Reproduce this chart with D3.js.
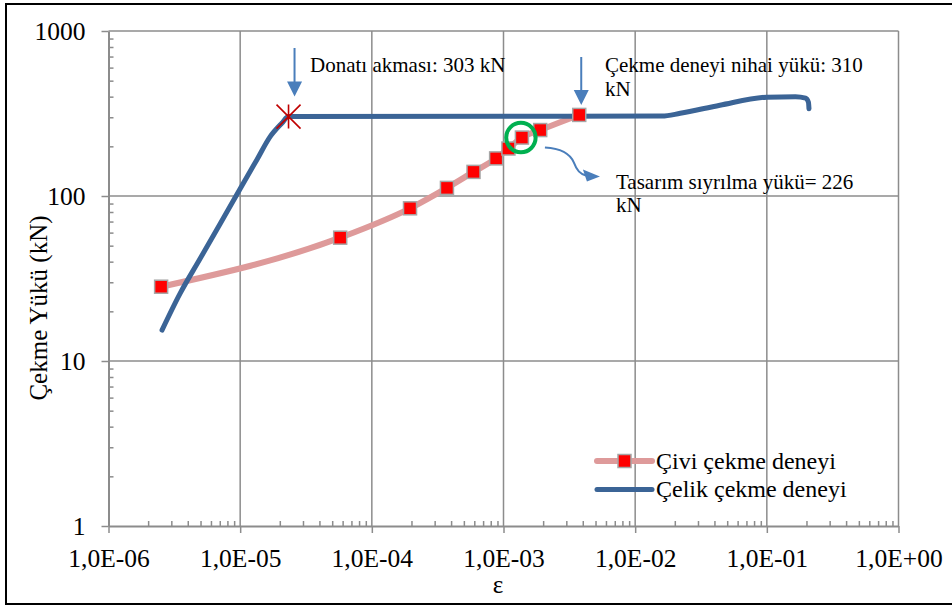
<!DOCTYPE html>
<html><head><meta charset="utf-8">
<script src="https://cdn.jsdelivr.net/npm/d3@7"></script>
<style>
body{margin:0;background:#fff}
svg text{font-family:"Liberation Serif","Times New Roman",serif;fill:#000}
</style>
</head><body>
<svg id="c" width="952" height="608"></svg>
<script>
// ---- data ----
const nailStrain = [2.51e-6, 5.75e-5, 1.95e-4, 3.72e-4, 5.92e-4, 8.79e-4, 1.09e-3, 1.38e-3, 1.90e-3, 3.76e-3];
const nailLoad   = [28.2, 55.9, 84.2, 112, 140, 169, 194, 226, 251, 310];
const steelStrain = [2.55e-6, 3.5e-6, 4.97e-6, 7.05e-6, 1.0e-5, 1.34e-5, 1.69e-5, 2.07e-5, 2.33e-5,
                     1.6e-2, 2.2e-2, 4.4e-2, 0.1, 0.165, 0.197, 0.207, 0.209];
const steelLoad   = [15.4, 25.7, 41.8, 68.0, 110.6, 166, 229, 276, 303,
                     305, 317, 355, 397, 400, 392, 370, 338];
const xTicks = [1e-6, 1e-5, 1e-4, 1e-3, 1e-2, 1e-1, 1];
const xTickLabels = ["1,0E-06","1,0E-05","1,0E-04","1,0E-03","1,0E-02","1,0E-01","1,0E+00"];
const yTicks = [1, 10, 100, 1000];
const yTickLabels = ["1","10","100","1000"];
const seriesNames = ["Çivi çekme deneyi", "Çelik çekme deneyi"];
const yieldPoint = [2.33e-5, 303];
const ultimatePoint = [3.76e-3, 310];
const designPoint = [1.38e-3, 226];
const noteYield = ["Donatı akması: 303 kN"];
const noteUltimate = ["Çekme deneyi nihai yükü: 310", "kN"];
const noteDesign = ["Tasarım sıyrılma yükü= 226", "kN"];
const xTitle = "ε";
const yTitle = "Çekme Yükü (kN)";

// ---- styles ----
const FONT = "'Liberation Serif','Times New Roman',serif";
const colNail = "#DE9A9A", colSteel = "#3B6496", colGrid = "#8C8C8C", colArrow = "#4A7EBB";

const svg = d3.select("#c");
svg.append("rect").attr("x",6).attr("y",4).attr("width",960).attr("height",600)
  .attr("fill","#fff").attr("stroke","#000").attr("stroke-width",2);

const x = d3.scaleLog().domain([1e-6, 1]).range([108.5, 898.5]);
const y = d3.scaleLog().domain([1, 1000]).range([526, 31]);

// grid
svg.append("g").selectAll("line").data(xTicks.slice(1)).join("line")
  .attr("x1",d=>x(d)).attr("x2",d=>x(d)).attr("y1",y(1000)).attr("y2",y(1))
  .attr("stroke",colGrid).attr("stroke-width",1.5);
svg.append("g").selectAll("line").data(yTicks.slice(1)).join("line")
  .attr("x1",x(1e-6)).attr("x2",x(1)).attr("y1",d=>y(d)).attr("y2",d=>y(d))
  .attr("stroke",colGrid).attr("stroke-width",1.5);

// minor tick values
const xMinor = [], yMinor = [];
xTicks.slice(0,-1).forEach(t=>{for(let k=2;k<=9;k++) xMinor.push(t*k);});
yTicks.slice(0,-1).forEach(t=>{for(let k=2;k<=9;k++) yMinor.push(t*k);});

function styleAxis(g){
  g.attr("font-family",FONT);
  g.select(".domain").attr("stroke",colGrid).attr("stroke-width",2);
  g.selectAll(".tick line").attr("stroke",colGrid).attr("stroke-width",1.5);
}
// x axis
const gx = svg.append("g").attr("transform",`translate(0,${y(1)})`)
  .call(d3.axisBottom(x).tickValues(xTicks).tickFormat((d,i)=>xTickLabels[i]).tickSize(7).tickSizeOuter(0));
styleAxis(gx);
gx.selectAll(".tick text").attr("y",41).attr("dy",0).style("font-size","25.5px")
  .style("font-family",FONT).attr("fill","#000");
const gxm = svg.append("g").attr("transform",`translate(0,${y(1)})`)
  .call(d3.axisTop(x).tickValues(xMinor).tickFormat("").tickSize(5).tickSizeOuter(0));
gxm.select(".domain").remove();
gxm.selectAll(".tick line").attr("stroke",colGrid).attr("stroke-width",1.5);

// y axis
const gy = svg.append("g").attr("transform",`translate(${x(1e-6)},0)`)
  .call(d3.axisLeft(y).tickValues(yTicks).tickFormat((d,i)=>yTickLabels[i]).tickSize(7).tickSizeOuter(0));
styleAxis(gy);
gy.selectAll(".tick text").attr("x",-23).attr("dy","0.33em").style("font-size","25.5px")
  .style("font-family",FONT).attr("fill","#000");
const gym = svg.append("g").attr("transform",`translate(${x(1e-6)},0)`)
  .call(d3.axisRight(y).tickValues(yMinor).tickFormat("").tickSize(5).tickSizeOuter(0));
gym.select(".domain").remove();
gym.selectAll(".tick line").attr("stroke",colGrid).attr("stroke-width",1.5);

// titles
svg.append("text").attr("transform","translate(46.5,308) rotate(-90)")
  .attr("text-anchor","middle").style("font-size","25px").style("font-family",FONT).text(yTitle);
svg.append("text").attr("x",498).attr("y",593).attr("text-anchor","middle")
  .style("font-size","25px").style("font-family",FONT).text(xTitle);

// series
const nail = nailStrain.map((d,i)=>[d, nailLoad[i]]);
const steel = steelStrain.map((d,i)=>[d, steelLoad[i]]);
const line = d3.line().x(d=>x(d[0])).y(d=>y(d[1])).curve(d3.curveMonotoneX);
svg.append("path").attr("d",line(nail)).attr("fill","none").attr("stroke",colNail)
  .attr("stroke-width",6).attr("stroke-linecap","round").attr("stroke-linejoin","round");
svg.append("path").attr("d",line(steel)).attr("fill","none").attr("stroke",colSteel)
  .attr("stroke-width",5).attr("stroke-linecap","round").attr("stroke-linejoin","round");
const ms = 13;
svg.append("g").selectAll("rect").data(nail).join("rect")
  .attr("x",d=>x(d[0])-ms/2).attr("y",d=>y(d[1])-ms/2).attr("width",ms).attr("height",ms)
  .attr("fill","#FF0000").attr("stroke","#A6A6A6").attr("stroke-width",1.5);

// yield star
const sx = x(yieldPoint[0]), sy = y(yieldPoint[1]), sr = 12;
svg.append("path")
  .attr("d",`M${sx-sr},${sy-sr}L${sx+sr},${sy+sr}M${sx-sr},${sy+sr}L${sx+sr},${sy-sr}M${sx},${sy-sr}L${sx},${sy+sr}`)
  .attr("stroke","#C00000").attr("stroke-width",1.6).attr("fill","none");

// design circle
svg.append("circle").attr("cx",x(designPoint[0])-1).attr("cy",y(designPoint[1])).attr("r",14.7)
  .attr("fill","none").attr("stroke","#00B050").attr("stroke-width",4);

// annotations: straight arrows
function downArrow(ax, top, tip){
  svg.append("line").attr("x1",ax).attr("x2",ax).attr("y1",top).attr("y2",tip-14)
    .attr("stroke",colArrow).attr("stroke-width",2);
  svg.append("path").attr("d",`M${ax-7.5},${tip-15}L${ax+7.5},${tip-15}L${ax},${tip}Z`).attr("fill",colArrow);
}
downArrow(sx+6, 48, sy-20);
const ux = x(ultimatePoint[0]), uy = y(ultimatePoint[1]);
downArrow(ux+2, 57, uy-10);

// curved arrow
const dx = x(designPoint[0]), dy = y(designPoint[1]);
svg.append("path")
  .attr("d",`M${dx+23},${dy+10} C${dx+40},${dy+11} ${dx+48},${dy+16} ${dx+52},${dy+25} C${dx+55},${dy+33} ${dx+58},${dy+36} ${dx+64},${dy+38}`)
  .attr("fill","none").attr("stroke",colArrow).attr("stroke-width",2);
svg.append("path").attr("d",`M${dx+78},${dy+39}L${dx+61},${dy+32}L${dx+65},${dy+44}Z`).attr("fill",colArrow);

// annotation texts
function note(lines, tx, ty){
  lines.forEach((s,i)=>svg.append("text").attr("x",tx).attr("y",ty+i*23.5)
    .style("font-size","21px").style("font-family",FONT).text(s));
}
note(noteYield, 310, 72);
note(noteUltimate, 605, 72);
note(noteDesign, 616, 188.5);

// legend
const lg = svg.append("g");
lg.append("line").attr("x1",597).attr("x2",652).attr("y1",461).attr("y2",461)
  .attr("stroke",colNail).attr("stroke-width",6).attr("stroke-linecap","round");
lg.append("rect").attr("x",624.5-ms/2).attr("y",461-ms/2).attr("width",ms).attr("height",ms)
  .attr("fill","#FF0000").attr("stroke","#A6A6A6").attr("stroke-width",1.5);
lg.append("text").attr("x",656).attr("y",469).style("font-size","24px").style("font-family",FONT).text(seriesNames[0]);
lg.append("line").attr("x1",597).attr("x2",652).attr("y1",489.5).attr("y2",489.5)
  .attr("stroke",colSteel).attr("stroke-width",5).attr("stroke-linecap","round");
lg.append("text").attr("x",656).attr("y",497).style("font-size","24px").style("font-family",FONT).text(seriesNames[1]);
</script>
</body></html>
